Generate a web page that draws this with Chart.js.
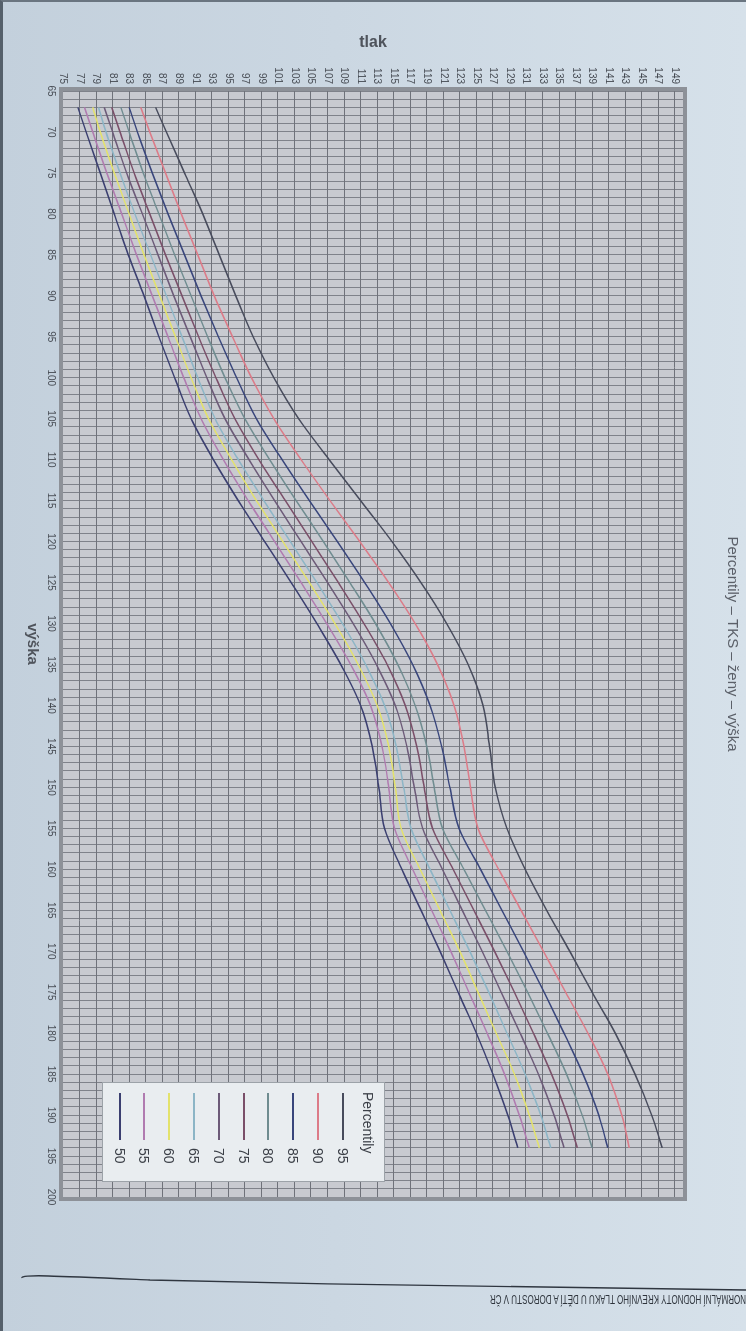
<!DOCTYPE html>
<html lang="cs">
<head>
<meta charset="utf-8">
<title>Percentily – TKS – ženy – výška</title>
<script src="https://cdn.jsdelivr.net/npm/chart.js@4.4.0/dist/chart.umd.min.js"></script>
<style>
  html, body { margin: 0; padding: 0; }
  body {
    width: 746px; height: 1331px; overflow: hidden; position: relative;
    background: linear-gradient(90deg, #c3d0dc 0%, #cbd7e2 45%, #d6e1ea 100%);
    font-family: "Liberation Sans", Arial, sans-serif;
  }
  #okraj { position: absolute; left: 0; top: 0; width: 746px; height: 1331px; box-sizing: border-box;
           border-left: 3px solid #55606b; border-top: 2px solid #6a7580; }
  /* graf je na fotce otoceny o 90 stupnu */
  #stranka { position: absolute; left: 746px; top: 0; width: 1331px; height: 746px;
             transform-origin: 0 0; transform: rotate(90deg); }
  #legenda { position: absolute; left: 1082px; top: 361px; width: 100px; box-sizing: border-box;
             background: #e9edf0; border: 1px solid #9ca2a8; padding: 4px 0 4px 0;
             font-size: 14px; color: #3c4048; }
  #legenda .radek { height: 24.8px; display: flex; align-items: center; }
  #legenda .nadpis { padding-left: 9px; }
  #legenda .cara { margin-left: 10px; width: 47px; height: 2px; }
  #legenda .popis { margin-left: 8px; }
  #paticka { position: absolute; left: 490px; top: 1292px; white-space: nowrap;
             font-family: "Liberation Sans", Arial, sans-serif;
             font-size: 12px; color: #2e343c; display: inline-block;
             transform-origin: 0 50%; transform: translateX(256px) rotate(180deg) scaleX(0.67); }
  #oblouk { position: absolute; left: 0; top: 1240px; }
</style>
</head>
<body>
<div id="okraj"></div>
<div id="stranka">
  <canvas id="graf" width="1331" height="746"></canvas>
  <div id="legenda"></div>
</div>
<svg id="oblouk" width="746" height="80">
  <path d="M 22 38 C 20 34, 60 36, 150 40 C 350 45, 560 48, 746 50" stroke="#2f3640" stroke-width="1.4" fill="none"/>
</svg>
<div id="paticka">NORMÁLNÍ HODNOTY KREVNÍHO TLAKU U DĚTÍ A DOROSTU V ČR</div>

<script>
// vyska (cm) - body krivek
const vyska = [67, 70, 75, 80, 85, 90, 95, 100, 105, 110, 115, 120, 125, 130, 135, 140, 145, 150, 155, 160, 165, 170, 175, 180, 185, 190, 194];

// popisky os
const vyskaTicky = [65, 70, 75, 80, 85, 90, 95, 100, 105, 110, 115, 120, 125, 130, 135, 140, 145, 150, 155, 160, 165, 170, 175, 180, 185, 190, 195, 200];
const tlakTicky = [75, 77, 79, 81, 83, 85, 87, 89, 91, 93, 95, 97, 99, 101, 103, 105, 107, 109, 111, 113, 115, 117, 119, 121, 123, 125, 127, 129, 131, 133, 135, 137, 139, 141, 143, 145, 147, 149];

// percentily - systolicky tlak (mm Hg)
const p95 = [86.2, 87.5, 89.7, 91.9, 93.9, 95.9, 98.0, 100.5, 103.5, 107.2, 111.0, 114.8, 118.3, 121.4, 124.0, 125.8, 126.6, 127.3, 128.7, 130.9, 133.5, 136.3, 139.0, 141.8, 144.2, 146.2, 147.5];
const p90 = [84.4, 85.5, 87.4, 89.3, 91.3, 93.3, 95.5, 97.8, 100.5, 103.8, 107.3, 110.9, 114.4, 117.6, 120.3, 122.3, 123.5, 124.3, 125.2, 127.7, 130.4, 133.1, 135.8, 138.5, 140.9, 142.6, 143.5];
const p85 = [83.0, 84.0, 85.8, 87.7, 89.7, 91.7, 93.8, 96.0, 98.4, 101.5, 104.8, 108.2, 111.5, 114.6, 117.3, 119.4, 120.8, 121.8, 122.9, 125.5, 128.1, 130.7, 133.2, 135.6, 137.9, 139.8, 140.9];
const p80 = [82.0, 83.0, 84.7, 86.6, 88.5, 90.5, 92.5, 94.6, 97.0, 100.0, 103.2, 106.5, 109.7, 112.8, 115.5, 117.6, 119.0, 119.9, 120.9, 123.5, 126.1, 128.7, 131.2, 133.6, 135.9, 137.8, 139.0];
const p75 = [80.9, 81.9, 83.6, 85.5, 87.4, 89.4, 91.4, 93.5, 95.8, 98.7, 101.9, 105.1, 108.3, 111.4, 114.2, 116.4, 117.8, 118.7, 119.7, 122.2, 124.7, 127.2, 129.6, 131.9, 134.1, 136.0, 137.2];
const p70 = [80.0, 81.0, 82.7, 84.6, 86.5, 88.4, 90.4, 92.4, 94.6, 97.5, 100.6, 103.8, 107.0, 110.1, 112.9, 115.2, 116.6, 117.5, 118.5, 120.9, 123.3, 125.7, 128.0, 130.3, 132.5, 134.4, 135.6];
const p65 = [79.3, 80.2, 81.9, 83.7, 85.6, 87.5, 89.4, 91.3, 93.4, 96.2, 99.3, 102.5, 105.7, 108.8, 111.6, 113.9, 115.3, 116.2, 117.1, 119.4, 121.8, 124.2, 126.5, 128.7, 130.9, 132.8, 134.0];
const p60 = [78.6, 79.5, 81.2, 83.0, 84.8, 86.7, 88.6, 90.5, 92.6, 95.4, 98.4, 101.6, 104.8, 107.9, 110.7, 113.0, 114.4, 115.2, 115.9, 118.2, 120.6, 123.0, 125.2, 127.4, 129.6, 131.4, 132.6];
const p55 = [77.6, 78.6, 80.3, 82.1, 83.9, 85.8, 87.7, 89.6, 91.7, 94.4, 97.4, 100.6, 103.8, 106.9, 109.8, 112.2, 113.6, 114.4, 115.1, 117.3, 119.6, 121.9, 124.1, 126.3, 128.4, 130.2, 131.4];
const p50 = [76.8, 77.8, 79.5, 81.2, 82.9, 84.8, 86.6, 88.5, 90.5, 93.2, 96.2, 99.4, 102.6, 105.7, 108.6, 111.0, 112.4, 113.2, 113.9, 116.0, 118.3, 120.6, 122.8, 125.0, 127.0, 128.8, 130.0];

const percentily = ['95', '90', '85', '80', '75', '70', '65', '60', '55', '50'];
const hodnoty = [p95, p90, p85, p80, p75, p70, p65, p60, p55, p50];
const barvy = ['#474b5c', '#dc7b88', '#38457b', '#6f8c90', '#7a4f69', '#6c5a78', '#8cb5c6', '#e3e26c', '#b07bb0', '#3b3f70'];

const pismo = '"Liberation Sans", Arial, sans-serif';

// pozadi a ramecek plochy grafu
const ramecek = {
    id: 'ramecek',
    beforeDraw(chart) {
        const a = chart.chartArea;
        const c = chart.ctx;
        c.save();
        c.fillStyle = '#c8cad0';
        c.fillRect(a.left, a.top, a.right - a.left, a.bottom - a.top);
        c.restore();
    },
    afterDraw(chart) {
        const a = chart.chartArea;
        const c = chart.ctx;
        c.save();
        c.strokeStyle = '#8d9198';
        c.lineWidth = 4;
        c.strokeRect(a.left - 2, a.top - 2, a.right - a.left + 4, a.bottom - a.top + 4);
        c.restore();
    }
};

const ctx = document.getElementById('graf').getContext('2d');
new Chart(ctx, {
    type: 'line',
    data: {
        datasets: percentily.map((p, i) => ({
            label: p,
            data: vyska.map((v, j) => ({ x: v, y: hodnoty[i][j] })),
            borderColor: barvy[i],
            borderWidth: 1.5,
            pointRadius: 0,
            cubicInterpolationMode: 'monotone',
            fill: false
        }))
    },
    options: {
        responsive: false,
        animation: false,
        layout: { padding: { left: 0, right: 134, top: 0, bottom: 0 } },
        plugins: {
            legend: { display: false },
            tooltip: { enabled: false },
            title: {
                display: true,
                text: 'Percentily – TKS – ženy – výška',
                fullSize: false,
                color: '#5b6069',
                font: { family: pismo, size: 15, weight: 'normal' },
                padding: { top: 5, bottom: 40 }
            }
        },
        scales: {
            x: {
                type: 'linear',
                min: 65,
                max: 200,
                afterFit: (s) => { s.height = 63; },
                ticks: {
                    stepSize: 1,
                    autoSkip: false,
                    maxRotation: 0,
                    padding: 2,
                    color: '#464b53',
                    font: { family: pismo, size: 10 },
                    callback: (v) => vyskaTicky.includes(v) ? String(v) : ''
                },
                grid: {
                    color: '#7f828a',
                    lineWidth: 1,
                    tickLength: 4,
                    tickColor: (c) => (c.tick && vyskaTicky.includes(c.tick.value)) ? '#80848b' : 'rgba(0,0,0,0)'
                },
                border: { display: false },
                title: {
                    display: true,
                    text: 'výška',
                    color: '#4f545c',
                    font: { family: pismo, size: 15, weight: 'bold' },
                    padding: { top: 0, bottom: 23 }
                }
            },
            y: {
                type: 'linear',
                min: 75,
                max: 150,
                afterFit: (s) => { s.width = 91; },
                afterBuildTicks: (s) => { s.ticks = tlakTicky.map(v => ({ value: v })); },
                ticks: {
                    autoSkip: false,
                    padding: 3,
                    color: '#464b53',
                    font: { family: pismo, size: 10 }
                },
                grid: { color: '#6f727a', lineWidth: 1, tickLength: 4, tickColor: '#80848b' },
                border: { display: false },
                title: {
                    display: true,
                    text: 'tlak',
                    color: '#4f545c',
                    font: { family: pismo, size: 16, weight: 'bold' },
                    padding: { top: 33, bottom: 0 }
                }
            }
        }
    },
    plugins: [ramecek]
});

// legenda
const legenda = document.getElementById('legenda');
const nadpis = document.createElement('div');
nadpis.className = 'radek nadpis';
nadpis.textContent = 'Percentily';
legenda.appendChild(nadpis);
percentily.forEach((p, i) => {
    const radek = document.createElement('div');
    radek.className = 'radek';
    radek.innerHTML = `<span class="cara" style="background:${barvy[i]}"></span><span class="popis">${p}</span>`;
    legenda.appendChild(radek);
});
</script>
</body>
</html>
